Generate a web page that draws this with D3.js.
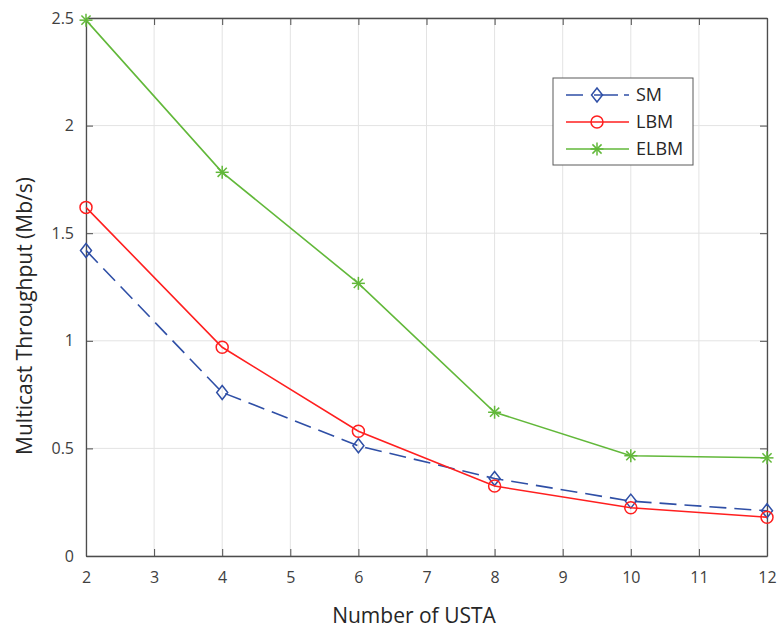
<!DOCTYPE html>
<html>
<head>
<meta charset="utf-8">
<script src="https://cdnjs.cloudflare.com/ajax/libs/d3/7.8.5/d3.min.js"></script>
<style>
body { margin: 0; background: #fff; }
text { font-family: "Open Sans", "DejaVu Sans", sans-serif; fill: #262626; }
.grid line { stroke: #e3e3e3; stroke-width: 1; }
.axis path, .axis line { stroke: #4d4d4d; }
.axis text { font-size: 16px; fill: #404040; }
</style>
</head>
<body>
<svg width="777" height="630"></svg>
<script>
var users = [2, 4, 6, 8, 10, 12];
var sm   = [1.42, 0.76, 0.512, 0.36, 0.255, 0.21];
var lbm  = [1.62, 0.97, 0.58, 0.325, 0.224, 0.18];
var elbm = [2.49, 1.783, 1.267, 0.668, 0.466, 0.456];
var xTicks = [2, 3, 4, 5, 6, 7, 8, 9, 10, 11, 12];
var yTicks = [0, 0.5, 1, 1.5, 2, 2.5];
var names = ["SM", "LBM", "ELBM"];

var svg = d3.select("svg");
var x = d3.scaleLinear().domain([2, 12]).range([86, 767]);
var y = d3.scaleLinear().domain([0, 2.5]).range([556, 18]);

// grid
var grid = svg.append("g").attr("class", "grid");
grid.selectAll(".gx").data(xTicks).enter().append("line")
  .attr("x1", d => x(d)).attr("x2", d => x(d))
  .attr("y1", y(0)).attr("y2", y(2.5));
grid.selectAll(".gy").data(yTicks).enter().append("line")
  .attr("x1", x(2)).attr("x2", x(12))
  .attr("y1", d => y(d)).attr("y2", d => y(d));

// axes with inward ticks
svg.append("g").attr("class", "axis")
  .attr("transform", "translate(0," + y(0) + ")")
  .call(d3.axisBottom(x).tickValues(xTicks).tickSizeInner(-7).tickSizeOuter(0).tickPadding(16));
svg.append("g").attr("class", "axis")
  .attr("transform", "translate(" + x(2) + ",0)")
  .call(d3.axisLeft(y).tickValues(yTicks).tickFormat(d3.format("")).tickSizeInner(-7).tickSizeOuter(0).tickPadding(12));
svg.append("g").attr("class", "axis")
  .attr("transform", "translate(0," + y(2.5) + ")")
  .call(d3.axisTop(x).tickValues(xTicks).tickSizeInner(-7).tickSizeOuter(0).tickFormat(""));
svg.append("g").attr("class", "axis")
  .attr("transform", "translate(" + x(12) + ",0)")
  .call(d3.axisRight(y).tickValues(yTicks).tickSizeInner(-7).tickSizeOuter(0).tickFormat(""));
svg.selectAll(".axis path").attr("stroke-width", 1.3);

// labels
svg.append("text").attr("x", 414).attr("y", 623)
  .attr("text-anchor", "middle").style("font-size", "21px").text("Number of USTA");
svg.append("text").attr("transform", "translate(32,316) rotate(-90)")
  .attr("text-anchor", "middle").style("font-size", "21px").text("Multicast Throughput (Mb/s)");

var series = [
  { name: names[0], vals: sm,   color: "#2f4fa6", dash: "17,8", marker: "diamond" },
  { name: names[1], vals: lbm,  color: "#ff1f1f", dash: null,   marker: "circle" },
  { name: names[2], vals: elbm, color: "#62b83a", dash: null,   marker: "star" }
];

function drawMarker(g, type, cx, cy, color) {
  if (type === "diamond") {
    g.append("path").attr("d", "M" + cx + "," + (cy - 7) + "L" + (cx + 5.5) + "," + cy + "L" + cx + "," + (cy + 7) + "L" + (cx - 5.5) + "," + cy + "Z")
      .attr("fill", "none").attr("stroke", color).attr("stroke-width", 1.5);
  } else if (type === "circle") {
    g.append("circle").attr("cx", cx).attr("cy", cy).attr("r", 6)
      .attr("fill", "none").attr("stroke", color).attr("stroke-width", 1.5);
  } else {
    var r = 6.5;
    [0, 45, 90, 135].forEach(function (a) {
      var rad = a * Math.PI / 180;
      g.append("line")
        .attr("x1", cx - r * Math.cos(rad)).attr("y1", cy - r * Math.sin(rad))
        .attr("x2", cx + r * Math.cos(rad)).attr("y2", cy + r * Math.sin(rad))
        .attr("stroke", color).attr("stroke-width", 1.5);
    });
  }
}

var line = d3.line().x((d, i) => x(users[i])).y(d => y(d));
series.forEach(function (s) {
  svg.append("path").datum(s.vals)
    .attr("d", line)
    .attr("fill", "none")
    .attr("stroke", s.color)
    .attr("stroke-width", 1.6)
    .attr("stroke-dasharray", s.dash);
  var g = svg.append("g");
  s.vals.forEach(function (v, i) { drawMarker(g, s.marker, x(users[i]), y(v), s.color); });
});

// legend
var lg = svg.append("g");
lg.append("rect").attr("x", 553).attr("y", 78).attr("width", 140).attr("height", 87)
  .attr("fill", "#fff").attr("stroke", "#5a5a5a").attr("stroke-width", 1);
series.forEach(function (s, i) {
  var ly = 95 + i * 27;
  lg.append("line").attr("x1", 566).attr("x2", 629).attr("y1", ly).attr("y2", ly)
    .attr("stroke", s.color).attr("stroke-width", 1.6).attr("stroke-dasharray", s.dash ? "17,11,24,6" : null);
  drawMarker(lg, s.marker, 597, ly, s.color);
  lg.append("text").attr("x", 636).attr("y", ly + 6).style("font-size", "18px").text(s.name);
});
</script>
</body>
</html>
